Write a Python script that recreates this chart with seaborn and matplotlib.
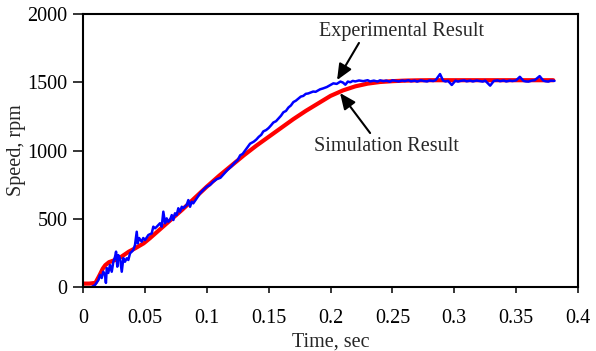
import matplotlib
matplotlib.use("Agg")
import matplotlib.pyplot as plt
import seaborn as sns
import pandas as pd

# Simulation result (red)
sim_time = [0, 0.005, 0.010, 0.013, 0.016, 0.018, 0.021, 0.026, 0.031, 0.037, 0.042,
            0.049, 0.054, 0.06, 0.07, 0.08, 0.09, 0.10, 0.11, 0.12, 0.13, 0.14, 0.15,
            0.16, 0.17, 0.18, 0.19, 0.20, 0.21, 0.22, 0.23, 0.24, 0.25, 0.26, 0.27,
            0.28, 0.30, 0.32, 0.34, 0.36, 0.38]
sim_speed = [25, 25, 30, 80, 135, 160, 182, 198, 222, 259, 283,
             320, 357, 405, 485, 565, 650, 735, 815, 890, 965, 1035, 1100,
             1165, 1230, 1290, 1345, 1400, 1440, 1470, 1490, 1502, 1508, 1512, 1514,
             1515, 1515, 1515, 1515, 1515, 1515]

# Experimental result (blue)
exp_time = [0.007, 0.0097, 0.0124, 0.0137, 0.0151, 0.0164, 0.0178, 0.0185, 0.0192, 0.0204,
            0.0218, 0.0232, 0.0245, 0.0259, 0.0267, 0.0277, 0.0285, 0.0299, 0.0313, 0.0326,
            0.0339, 0.0353, 0.0366, 0.0380, 0.0394, 0.0406, 0.0420, 0.0434, 0.0442, 0.0453,
            0.0474, 0.0487, 0.0501, 0.0528, 0.0555, 0.0568, 0.0582, 0.0596, 0.0608, 0.0622,
            0.0636, 0.0649, 0.0663, 0.0676, 0.0689, 0.0703, 0.0717, 0.0730, 0.0743, 0.0757,
            0.0770, 0.0784, 0.0798, 0.0810, 0.0838, 0.0851, 0.0865, 0.0878, 0.0891, 0.0919,
            0.0945, 0.0972, 0.1000, 0.1026, 0.105, 0.108, 0.111, 0.114, 0.117, 0.120,
            0.123, 0.125, 0.127, 0.129, 0.131, 0.133, 0.135, 0.138, 0.140, 0.142,
            0.144, 0.1457, 0.148, 0.150, 0.152, 0.1538, 0.156, 0.158, 0.160, 0.1619,
            0.164, 0.166, 0.168, 0.170, 0.172, 0.174, 0.176, 0.178, 0.180, 0.182,
            0.184, 0.186, 0.188, 0.1915, 0.194, 0.197, 0.200, 0.2023, 0.205, 0.208,
            0.210, 0.212, 0.214, 0.216, 0.218, 0.220, 0.223, 0.2265, 0.230, 0.232,
            0.235, 0.238, 0.240, 0.243, 0.245, 0.248, 0.250, 0.253, 0.255, 0.258,
            0.260, 0.263, 0.265, 0.268, 0.270, 0.273, 0.275, 0.278, 0.280, 0.283,
            0.285, 0.2885, 0.291, 0.293, 0.295, 0.298, 0.301, 0.303, 0.305, 0.308,
            0.310, 0.313, 0.315, 0.318, 0.320, 0.323, 0.325, 0.329, 0.332, 0.335,
            0.337, 0.340, 0.342, 0.345, 0.347, 0.350, 0.353, 0.356, 0.358, 0.360,
            0.363, 0.365, 0.369, 0.372, 0.374, 0.376, 0.378, 0.381]
exp_speed = [0, 15, 51, 88, 66, 112, 88, 30, 139, 103,
             161, 112, 185, 222, 259, 149, 234, 210, 112, 212,
             185, 210, 198, 247, 259, 271, 308, 405, 320, 359,
             332, 359, 344, 381, 393, 442, 430, 442, 454, 467,
             442, 552, 467, 503, 478, 491, 527, 491, 540, 527,
             577, 552, 588, 577, 601, 637, 588, 625, 613, 650,
             686, 711, 735, 747, 770, 790, 800, 830, 860, 885,
             915, 930, 965, 975, 1000, 1025, 1050, 1065, 1080, 1100,
             1115, 1140, 1150, 1165, 1185, 1205, 1215, 1235, 1255, 1280,
             1290, 1315, 1330, 1355, 1365, 1380, 1395, 1400, 1415, 1418,
             1425, 1432, 1430, 1448, 1455, 1465, 1480, 1492, 1488, 1505,
             1498, 1482, 1505, 1500, 1510, 1506, 1513, 1508, 1515, 1506,
             1512, 1505, 1514, 1508, 1512, 1504, 1514, 1510, 1506, 1513,
             1509, 1515, 1507, 1512, 1505, 1514, 1510, 1506, 1513, 1509,
             1516, 1560, 1512, 1506, 1510, 1480, 1512, 1505, 1510, 1514,
             1507, 1512, 1506, 1513, 1510, 1505, 1512, 1475, 1510, 1514,
             1508, 1513, 1506, 1512, 1509, 1514, 1540, 1510, 1506, 1505,
             1513, 1515, 1545, 1512, 1507, 1505, 1512, 1510]

x_ticks = [0, 0.05, 0.1, 0.15, 0.2, 0.25, 0.3, 0.35, 0.4]
x_tick_labels = ["0", "0.05", "0.1", "0.15", "0.2", "0.25", "0.3", "0.35", "0.4"]
y_ticks = [0, 500, 1000, 1500, 2000]

sns.set_theme(style="ticks")
plt.rcParams["font.family"] = ["Liberation Serif", "DejaVu Serif"]

sim_df = pd.DataFrame({"Time": sim_time, "Speed": sim_speed})
exp_df = pd.DataFrame({"Time": exp_time, "Speed": exp_speed})

fig = plt.figure(figsize=(5.96, 3.51), dpi=100)
ax = fig.add_axes([0.1393, 0.1823, 0.8305, 0.7778])

sns.lineplot(data=sim_df, x="Time", y="Speed", ax=ax, color="#ff0000",
             linewidth=3.0, estimator=None, sort=False)
sns.lineplot(data=exp_df, x="Time", y="Speed", ax=ax, color="#0000ff",
             linewidth=1.8, estimator=None, sort=False)

ax.set_xlim(0, 0.4)
ax.set_ylim(0, 2000)
ax.set_xticks(x_ticks)
ax.set_xticklabels(x_tick_labels)
ax.set_yticks(y_ticks)
ax.set_xlabel("Time, sec", fontsize=14.5, labelpad=3)
ax.set_ylabel("Speed, rpm", fontsize=14.5, labelpad=1)

for s in ax.spines.values():
    s.set_visible(True)
    s.set_linewidth(1.5)
    s.set_color("black")

ax.tick_params(axis="x", direction="out", length=4.5, width=1.1, labelsize=14.5,
               pad=11.5, colors="black")
ax.tick_params(axis="y", direction="out", length=7, width=1.1, labelsize=14.5,
               pad=4, colors="black")

arrow = dict(arrowstyle="-|>,head_length=0.8,head_width=0.35", color="black",
             lw=1.5, shrinkA=0, shrinkB=0)
ax.annotate("", xy=(0.2053, 1516), xytext=(0.223, 1788), arrowprops=arrow)
ax.text(0.257, 1875, "Experimental Result", fontsize=14.5, ha="center", va="center")
ax.annotate("", xy=(0.2077, 1421), xytext=(0.232, 1128), arrowprops=arrow)
ax.text(0.245, 1033, "Simulation Result", fontsize=14.5, ha="center", va="center")

fig.savefig("out.png", dpi=100, facecolor="white")
